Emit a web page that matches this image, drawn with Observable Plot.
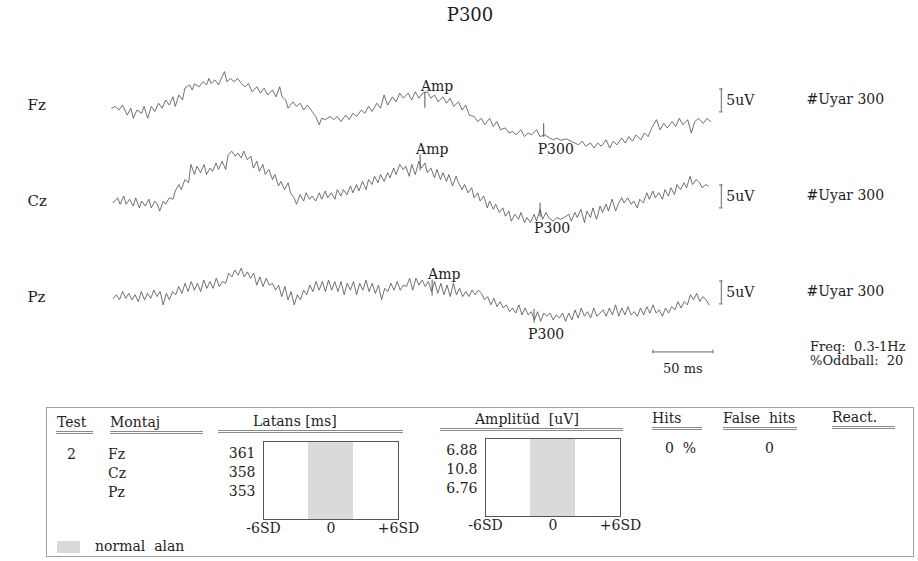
<!DOCTYPE html>
<html><head><meta charset="utf-8">
<script src="https://cdn.jsdelivr.net/npm/d3@7"></script>
<script src="https://cdn.jsdelivr.net/npm/@observablehq/plot@0.6"></script>
<style>
body{margin:0;background:#fff;}
#page{position:relative;width:918px;height:561px;overflow:hidden;font-family:"DejaVu Serif",serif;color:#1e1e1e;}
#page svg{position:absolute;}
.t{position:absolute;white-space:pre;line-height:18px;font-size:14px;}
.u{position:absolute;height:1px;border-top:1px solid #8a8a8a;border-bottom:1px solid #8a8a8a;}
</style></head><body><div id="page"></div>
<script>
// ---- data ----
const channels = ["Fz", "Cz", "Pz"];
// Fz, Cz: [time ms, amplitude uV] vertices
const fz = [[1,-0.6],[4,-0.2],[7,-1.0],[10,0.1],[14,-2.1],[17,-0.6],[19,-2.8],[22,-1.0],[26,-1.7],[28,-0.2],[31,-2.8],[34,-0.2],[37,-1.3],[40,0.5],[43,-0.6],[46,1.2],[49,0.1],[52,1.9],[54,-0.2],[57,2.3],[60,1.2],[62,3.8],[66,4.5],[68,3.4],[70,4.7],[74,4.1],[77,5.2],[80,4.5],[82,5.9],[84,4.8],[87,5.6],[90,4.5],[93,6.3],[95,7.4],[97,5.2],[100,5.9],[103,5.2],[106,5.9],[109,4.8],[112,4.1],[115,4.8],[118,3.0],[122,4.1],[125,2.7],[128,3.8],[131,2.3],[135,3.4],[138,1.9],[141,4.1],[143,1.9],[146,1.2],[148,-0.6],[152,0.8],[155,-0.2],[158,0.5],[161,-1.0],[164,0.1],[168,-1.3],[171,-2.4],[174,-4.2],[176,-2.8],[179,-3.1],[183,-2.4],[186,-3.1],[189,-2.4],[192,-3.5],[196,-2.1],[199,-3.1],[202,-1.7],[205,-2.4],[209,-1.0],[212,-1.7],[215,-0.2],[218,-1.3],[222,0.5],[225,-0.6],[228,2.3],[231,0.1],[235,1.9],[238,0.8],[241,2.7],[244,1.6],[248,2.7],[251,1.2],[254,3.0],[257,1.6],[260,2.7],[264,3.0],[267,1.6],[270,2.3],[273,0.8],[277,1.9],[280,0.5],[283,1.6],[286,-0.2],[290,0.8],[293,-1.0],[296,0.1],[299,-2.1],[303,-2.4],[306,-3.5],[309,-2.8],[312,-4.2],[316,-2.8],[319,-4.6],[322,-3.5],[325,-5.3],[329,-4.9],[332,-6.0],[335,-5.7],[338,-6.4],[342,-5.3],[345,-6.8],[348,-6.0],[351,-6.4],[355,-5.3],[358,-6.8],[362,-6.4],[366,-7.1],[369,-7.5],[372,-7.1],[375,-7.6],[380,-7.3],[387,-8.2],[390,-8.6],[393,-7.8],[396,-8.9],[400,-8.2],[403,-9.3],[406,-8.2],[409,-8.9],[413,-7.5],[416,-9.3],[419,-7.8],[422,-8.6],[426,-7.1],[429,-8.2],[432,-6.8],[435,-7.8],[438,-6.4],[442,-7.5],[445,-6.0],[448,-6.8],[451,-4.9],[455,-3.1],[458,-5.3],[461,-3.9],[464,-4.9],[468,-3.5],[471,-4.6],[474,-2.8],[477,-4.2],[481,-3.1],[484,-6.0],[487,-3.5],[490,-2.8],[494,-3.9],[497,-2.8],[500,-3.5]];
const cz = [[2,-0.3],[6,0.8],[8,-0.6],[11,1.2],[13,-0.6],[16,0.5],[19,-1.0],[21,0.8],[24,-1.4],[26,0.1],[29,-1.0],[32,0.5],[34,-1.4],[37,0.1],[39,-0.6],[41,-2.1],[44,0.1],[46,-0.6],[49,0.8],[52,0.5],[54,2.3],[57,3.7],[59,2.6],[62,4.8],[65,4.1],[67,8.1],[70,5.9],[72,7.7],[75,6.3],[78,8.1],[80,5.9],[83,7.3],[85,6.6],[88,8.4],[90,7.0],[93,8.8],[96,7.0],[98,10.2],[101,11.0],[104,9.9],[106,10.6],[109,9.5],[111,11.0],[114,9.1],[117,9.9],[119,7.3],[122,8.8],[124,6.6],[127,8.1],[129,5.9],[132,7.0],[135,4.8],[137,5.9],[140,3.4],[142,4.4],[145,2.6],[148,4.1],[150,1.9],[153,0.8],[155,-0.6],[158,1.5],[161,0.1],[163,1.9],[166,0.5],[168,1.2],[171,0.1],[174,1.9],[176,0.5],[179,2.3],[181,0.8],[184,1.9],[187,0.5],[189,2.6],[192,1.2],[194,2.6],[197,1.5],[200,3.4],[202,1.9],[205,3.7],[207,2.3],[210,4.4],[213,2.6],[215,4.8],[218,3.7],[220,5.5],[223,4.1],[225,5.9],[228,4.4],[231,6.3],[233,5.2],[236,7.3],[238,5.9],[241,8.1],[244,7.0],[246,7.7],[249,5.5],[251,8.1],[254,5.9],[257,8.8],[259,7.3],[262,8.4],[264,6.3],[267,7.3],[270,5.2],[272,7.0],[275,4.8],[277,6.3],[280,4.4],[282,5.9],[285,3.4],[288,5.5],[290,4.1],[293,2.6],[295,3.7],[298,1.9],[301,3.0],[303,0.8],[306,1.9],[308,0.1],[311,1.2],[314,-1.4],[316,0.1],[319,-1.7],[321,-0.6],[324,-2.4],[327,-1.4],[329,-3.2],[332,-2.1],[334,-4.3],[337,-2.8],[340,-3.9],[342,-2.4],[345,-4.6],[347,-3.5],[350,-4.6],[353,-2.8],[355,-4.3],[358,-1.7],[360,-3.9],[363,-2.4],[365,-3.5],[369,-4.3],[372,-3.5],[375,-3.9],[378,-3.5],[382,-2.8],[384,-4.3],[387,-2.4],[389,-3.5],[392,-1.7],[395,-4.6],[397,-2.1],[400,-3.5],[402,-1.4],[405,-3.9],[408,-1.0],[410,-2.4],[413,-0.6],[415,-2.1],[418,0.5],[421,-2.1],[423,-0.6],[426,0.8],[428,-0.3],[431,0.8],[434,-0.6],[436,0.1],[439,-1.4],[441,0.5],[444,-0.3],[447,1.9],[449,0.5],[452,2.3],[454,0.8],[457,1.9],[460,0.5],[462,2.6],[465,1.2],[467,3.0],[470,1.5],[472,3.7],[475,2.6],[478,4.1],[480,3.0],[483,5.5],[485,3.7],[488,4.8],[491,4.1],[493,3.0],[496,3.7],[498,3.4]];
// Pz: amplitudes (uV) read on a regular grid starting at pzStartMs, every pzStepMs
const pzStartMs = 2.3, pzStepMs = 2.6;
const pz = [-0.2,0.6,-0.5,1.3,-0.2,0.9,-0.5,0.6,-0.9,1.3,-0.5,0.9,-0.2,1.6,0.2,1.3,-1.6,0.9,-0.5,1.3,
  0.6,2.4,0.9,3.1,1.3,3.5,1.6,3.1,1.3,3.8,2.0,3.5,2.0,4.2,2.4,3.5,3.1,5.3,4.5,6.0,
  4.9,6.4,4.5,5.6,4.2,5.3,2.7,4.5,2.4,4.2,2.7,3.1,1.6,2.7,0.2,2.4,-0.5,1.3,-1.6,0.6,
  -0.5,1.6,0.6,2.7,1.3,3.5,1.6,3.5,1.3,3.8,1.6,3.5,1.3,3.5,0.6,3.1,1.6,3.5,0.6,3.1,
  1.6,3.8,1.3,3.1,0.9,2.7,-0.5,2.0,1.3,3.1,1.6,3.5,1.6,2.7,2.4,4.2,1.6,4.2,2.7,3.8,
  2.4,3.5,1.3,3.5,0.9,3.1,0.6,2.7,0.2,3.1,0.6,2.0,0.2,1.3,0.2,1.6,0.6,1.6,0.9,-0.5,
  0.2,-1.6,-0.2,-2.0,-0.9,-2.3,-1.6,-3.1,-2.3,-3.4,-1.6,-3.8,-2.3,-3.8,-3.1,-4.9,-3.1,-5.2,-3.4,-4.1,
  -3.4,-4.9,-3.8,-4.5,-3.4,-5.2,-3.4,-4.9,-2.7,-4.5,-2.3,-4.1,-3.1,-4.5,-2.3,-4.1,-3.4,-2.7,-4.1,-2.3,
  -3.8,-1.6,-4.1,-2.3,-3.8,-2.0,-3.8,-3.1,-4.1,-2.3,-3.8,-2.0,-3.4,-1.6,-3.4,-2.7,-4.1,-2.3,-3.4,-2.0,
  -2.7,-0.9,-2.3,-0.9,-1.6,0.6,-0.5,0.9,-0.9,0.2,-0.5,-1.6];
const ampLatency = [262, 258, 268];      // ms
const ampPeak = [2.4, 9.7, 3.3];         // uV
const p300Latency = [361, 358, 353];     // ms
const p300Trough = [-7.6, -4.0, -6.2];   // uV
const stimulusCount = [300, 300, 300];
const latencyMs = ["361", "358", "353"];
const amplitudeUv = ["6.88", "10.8", "6.76"];
const sdTicks = [-6, 0, 6];
const normalBand = [-2, 2];
const testNo = "2";
const hitsPct = "0";
const falseHits = "0";
const freqBand = "0.3-1Hz";
const oddballPct = "20";
const calibUv = 5;
const timeBarMs = 50;

// ---- layout helpers ----
const page = document.getElementById("page");
function put(txt, x, y, size) {
  const d = document.createElement("div");
  d.className = "t"; d.textContent = txt;
  d.style.left = x + "px"; d.style.top = (y - 9) + "px";
  if (size) d.style.fontSize = size + "px";
  page.appendChild(d); return d;
}
function uline(x1, x2, y) {
  const d = document.createElement("div");
  d.className = "u";
  d.style.left = x1 + "px"; d.style.width = (x2 - x1) + "px"; d.style.top = y + "px";
  page.appendChild(d);
}

// ---- title ----
const title = put("P300", 420, 15, 18);
title.style.width = "100px"; title.style.textAlign = "center";

// ---- waveforms ----
const traces = [
  ...fz.map(([t, v]) => ({ch: "Fz", t, v})),
  ...cz.map(([t, v]) => ({ch: "Cz", t, v})),
  ...pz.map((v, j) => ({ch: "Pz", t: pzStartMs + j * pzStepMs, v}))
];
const ann = channels.map((ch, i) => ({ch, amp: ampLatency[i], ampV: ampPeak[i], p3: p300Latency[i], p3V: p300Trough[i], n: stimulusCount[i]}));
const calLo = -1.4;
const calX = 509;
const barEnd = 502;

const wave = Plot.plot({
  width: 918, height: 390,
  marginTop: 56, marginBottom: 44.5, marginLeft: 0, marginRight: 0,
  style: {fontFamily: "DejaVu Serif, serif", fontSize: "14px", color: "#1e1e1e", background: "transparent"},
  x: {domain: [0, 500], range: [110, 710], axis: null},
  y: {domain: [-10.49, 10.49], axis: null},
  fy: {domain: channels, padding: 0, axis: null},
  marks: [
    Plot.line(traces, {x: "t", y: "v", fy: "ch", stroke: "#4d4d4d", strokeWidth: 0.8}),
    Plot.text(ann, {fy: "ch", text: "ch", frameAnchor: "left", dx: 27, textAnchor: "start", fontSize: 15}),
    Plot.ruleX(ann, {fy: "ch", x: "amp", y1: d => d.ampV - 3, y2: d => d.ampV + 0.5, stroke: "#555"}),
    Plot.text(ann, {fy: "ch", x: "amp", y: "ampV", text: () => "Amp", textAnchor: "start", dx: -4, dy: -8}),
    Plot.ruleX(ann, {fy: "ch", x: "p3", y1: d => d.p3V + 0.6, y2: d => d.p3V + 3.6, stroke: "#555"}),
    Plot.text(ann, {fy: "ch", x: "p3", y: "p3V", text: () => "P300", textAnchor: "start", dx: -6, dy: 9}),
    Plot.ruleX(ann, {fy: "ch", x: calX, y1: calLo, y2: calLo + calibUv, stroke: "#666"}),
    Plot.ruleY(ann, {fy: "ch", y: calLo, x1: calX - 1.5, x2: calX + 1.5, stroke: "#666"}),
    Plot.ruleY(ann, {fy: "ch", y: calLo + calibUv, x1: calX - 1.5, x2: calX + 1.5, stroke: "#666"}),
    Plot.text(ann, {fy: "ch", x: calX, y: calLo + calibUv / 2, text: () => `${calibUv}uV`, textAnchor: "start", dx: 5}),
    Plot.text(ann, {fy: "ch", x: 580, y: calLo + calibUv / 2 + 0.3, text: d => `#Uyar ${d.n}`, textAnchor: "start"}),
    Plot.text([`Freq:\u00a0\u00a0${freqBand}`, `%Oddball:\u00a0\u00a0${oddballPct}`], {fy: () => "Pz", x: 583, y: (d, i) => -10.8 - i * 3.1, text: d => d, textAnchor: "start", fontSize: 13}),
    Plot.ruleY([timeBarMs], {fy: () => "Pz", y: -11.9, x1: d => barEnd - d, x2: barEnd, stroke: "#666"}),
    Plot.ruleX([barEnd - timeBarMs, barEnd], {fy: () => "Pz", x: d => d, y1: -12.3, y2: -11.5, stroke: "#666"}),
    Plot.text([timeBarMs], {fy: () => "Pz", x: d => barEnd - d / 2, y: -15.5, text: d => `${d} ms`, fontSize: 13})
  ]
});
wave.style.left = "0px"; wave.style.top = "0px";
page.appendChild(wave);

// ---- result table ----
const box = document.createElement("div");
Object.assign(box.style, {position: "absolute", left: "46px", top: "407px", width: "866px", height: "148px", border: "1px solid #a0a0a0"});
page.appendChild(box);

put("Test", 57, 422); uline(56, 93, 431);
put("Montaj", 110, 422); uline(110, 203, 431);
put("Latans [ms]", 253, 421); uline(218, 403, 430);
put("Amplitüd\u00a0\u00a0[uV]", 475, 419); uline(440, 623, 428);
put("Hits", 652, 418); uline(652, 702, 427);
put("False\u00a0\u00a0hits", 723, 418); uline(723, 797, 427);
put("React.", 832, 417); uline(832, 895, 426);

put(testNo, 67, 454);
channels.forEach((ch, i) => put(ch, 108, 454 + i * 19));
put(`${hitsPct}\u00a0\u00a0%`, 665, 448);
put(falseHits, 765, 448);

const sw = document.createElement("div");
Object.assign(sw.style, {position: "absolute", left: "57px", top: "541px", width: "23px", height: "12px", background: "#dadada"});
page.appendChild(sw);
put("normal\u00a0\u00a0alan", 95, 546);

function sdBox(values, left, top) {
  const p = Plot.plot({
    width: 230, height: 110, marginLeft: 63, marginRight: 32, marginTop: 11, marginBottom: 21,
    style: {fontFamily: "DejaVu Serif, serif", fontSize: "14px", color: "#1e1e1e", background: "transparent"},
    x: {domain: [-6, 6], ticks: sdTicks, tickSize: 0, tickPadding: 4, label: null,
        tickFormat: d => d === 0 ? "0" : (d > 0 ? "+" : "") + d + "SD"},
    y: {type: "point", domain: channels, range: [23, 61.5], padding: 0, axis: null},
    marks: [
      Plot.rect([normalBand], {x1: d => d[0], x2: d => d[1], fill: "#dadada"}),
      Plot.frame({stroke: "#555"}),
      Plot.text(values, {x: -6, y: (d, i) => channels[i], text: d => d, textAnchor: "end", dx: -8})
    ]
  });
  p.style.left = left + "px"; p.style.top = top + "px";
  page.appendChild(p);
}
sdBox(latencyMs, 200, 430);
sdBox(amplitudeUv, 422, 427);
</script></body></html>
